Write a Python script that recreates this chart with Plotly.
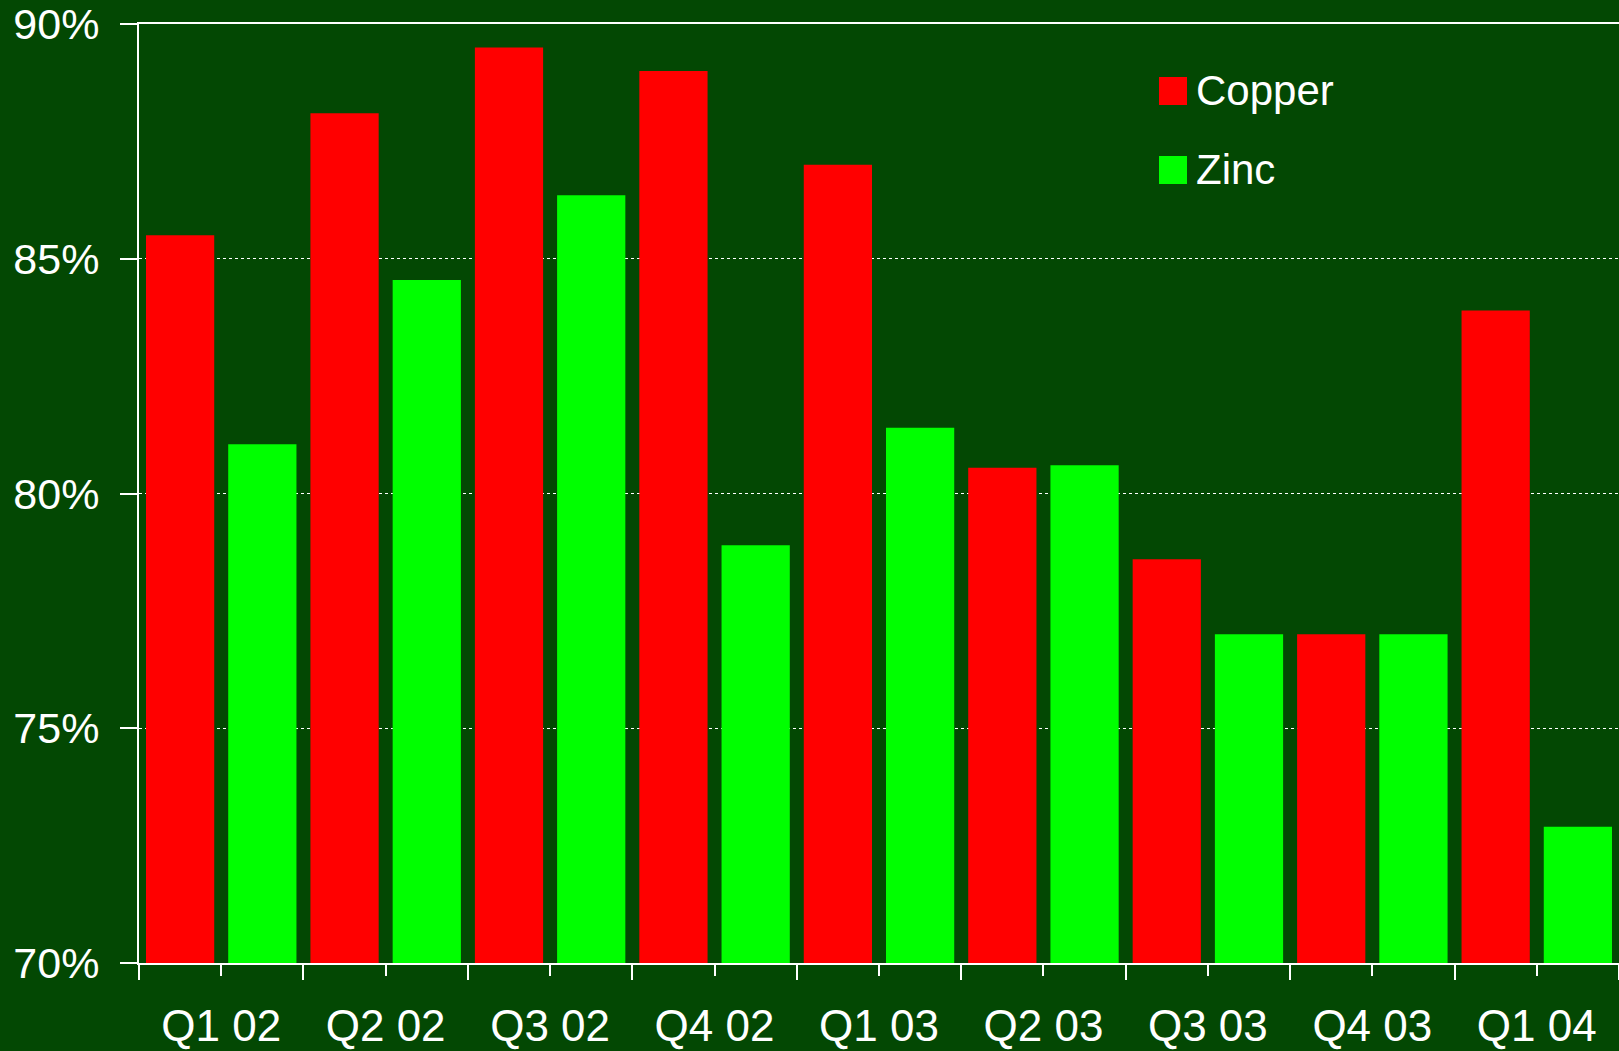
import plotly.graph_objects as go

categories = ["Q1 02", "Q2 02", "Q3 02", "Q4 02", "Q1 03", "Q2 03", "Q3 03", "Q4 03", "Q1 04"]
copper = [85.5, 88.1, 89.5, 89.0, 87.0, 80.55, 78.6, 77.0, 83.9]
zinc = [81.05, 84.55, 86.35, 78.9, 81.4, 80.6, 77.0, 77.0, 72.9]
y_ticks = [70, 75, 80, 85, 90]

BG = "#034803"
FONT = "Liberation Sans, Arial, sans-serif"
xpos = list(range(len(categories)))

fig = go.Figure()
fig.add_trace(go.Bar(x=xpos, y=copper, name="Copper", marker=dict(color="#FF0000", line=dict(width=0))))
fig.add_trace(go.Bar(x=xpos, y=zinc, name="Zinc", marker=dict(color="#00FF00", line=dict(width=0))))

fig.update_layout(
    width=1619, height=1051,
    margin=dict(l=139, r=0, t=24, b=88),
    paper_bgcolor=BG, plot_bgcolor=BG,
    barmode="group", bargap=0, bargroupgap=0.17,
    showlegend=False,
    font=dict(family=FONT, color="white", size=44),
)
fig.update_xaxes(
    range=[-0.5, len(categories) - 0.5],
    tickvals=xpos, ticktext=categories,
    ticks="outside", ticklen=11, tickwidth=2, tickcolor="white",
    ticklabelstandoff=12, ticklabeloverflow="allow", automargin=False,
    showgrid=False, zeroline=False,
    showline=True, linecolor="white", linewidth=2, mirror=True,
    minor=dict(tickvals=[i - 0.5 for i in range(len(categories) + 1)],
               ticks="outside", ticklen=15, tickwidth=2, tickcolor="white", showgrid=False),
    tickfont=dict(size=44, color="white", family=FONT),
)
fig.update_yaxes(
    range=[70, 90],
    tickvals=y_ticks, ticktext=[f"{v}%" for v in y_ticks],
    ticks="outside", ticklen=17, tickwidth=2, tickcolor="white",
    ticklabelstandoff=12, ticklabeloverflow="allow", automargin=False,
    showgrid=True, gridcolor="white", gridwidth=1, griddash="dot",
    zeroline=False,
    showline=True, linecolor="white", linewidth=2,
    tickfont=dict(size=43, color="white", family=FONT),
)

# legend drawn manually (large swatches)
legend_items = [("Copper", "#FF0000", 91), ("Zinc", "#00FF00", 170)]
for name, color, yc in legend_items:
    fig.add_shape(type="rect", xref="paper", yref="paper",
                  x0=(1159 - 139) / 1480, x1=(1187 - 139) / 1480,
                  y0=(963 - (yc + 14)) / 939, y1=(963 - (yc - 14)) / 939,
                  fillcolor=color, line=dict(width=0), layer="above")
    fig.add_annotation(xref="paper", yref="paper",
                       x=(1194 - 139) / 1480, y=(963 - yc) / 939,
                       text=name, showarrow=False, xanchor="left", yanchor="middle",
                       font=dict(size=42, color="white", family=FONT))

fig.write_html("out.html")
